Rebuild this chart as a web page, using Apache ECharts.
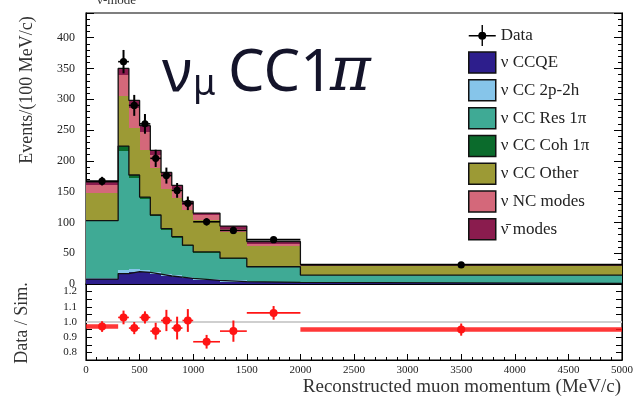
<!DOCTYPE html>
<html>
<head>
<meta charset="utf-8">
<script src="https://cdn.jsdelivr.net/npm/echarts@6/dist/echarts.min.js"></script>
<style>
  html, body { margin: 0; padding: 0; background: #fff; }
  #chart { width: 643px; height: 411px; }
</style>
</head>
<body>
<div id="chart"></div>
<script>
// bin edges in MeV/c, heights in events per 100 MeV/c
const binEdges = [0, 300, 400, 500, 600, 700, 800, 900, 1000, 1250, 1500, 2000, 5000];
const ccqe    = [8, 17, 20, 19, 16, 13, 11, 9, 6, 4, 2.5, 1];
const cc2p2h  = [2, 5, 5, 4, 4, 3, 3, 2, 2, 2, 1, 1];
const ccRes   = [92, 194, 147, 115, 90, 72, 61, 51, 43, 35, 24, 12];
const ccCoh   = [1, 8, 5, 3, 2, 2, 2, 1, 1, 1, 0.5, 0.5];
const ccOther = [45, 82, 77, 76, 76, 65, 62, 57, 52, 43, 33, 14.5];
const ncModes = [12, 34, 32, 30, 21, 20, 16, 9, 8, 5, 4, 2];
const antiNu  = [6, 10, 12, 10, 8, 6, 5, 5, 3, 4, 4, 1];

const dataVals = [167, 361, 290, 260, 204, 176, 152, 131, 101, 87, 72, 31];
const dataErr  = [7, 19, 17, 16, 14, 13, 12, 11, 6, 6, 4, 1.5];

const ratioVals = [0.97, 1.03, 0.96, 1.03, 0.94, 1.01, 0.96, 1.01, 0.87, 0.94, 1.06, 0.95];
const ratioErr  = [0.035, 0.045, 0.04, 0.04, 0.055, 0.07, 0.075, 0.075, 0.045, 0.07, 0.045, 0.04];

const components = [
  { name: 'ν CCQE',      vals: ccqe,    color: '#2d1e8c' },
  { name: 'ν CC 2p-2h',  vals: cc2p2h,  color: '#86c5ea' },
  { name: 'ν CC Res 1π', vals: ccRes,   color: '#3faa95' },
  { name: 'ν CC Coh 1π', vals: ccCoh,   color: '#0b6b2c' },
  { name: 'ν CC Other',  vals: ccOther, color: '#9c9a35' },
  { name: 'ν NC modes',  vals: ncModes, color: '#d4687a' },
  { name: 'ν̄ modes',     vals: antiNu,  color: '#8a1c4e' }
];

const serif = 'Liberation Serif';
const nBins = binEdges.length - 1;

// cumulative tops of the stack
const cum = [];
components.forEach((c, k) => {
  cum.push(c.vals.map((v, i) => v + (k > 0 ? cum[k - 1][i] : 0)));
});

function renderBox(params, api) {
  const p0 = api.coord([api.value(0), api.value(3)]);
  const p1 = api.coord([api.value(1), api.value(2)]);
  const x0 = Math.round(p0[0]), x1 = Math.round(p1[0]);
  const y0 = Math.round(p0[1]), y1 = Math.round(p1[1]);
  return {
    type: 'rect',
    shape: { x: x0, y: y0, width: x1 - x0, height: y1 - y0 },
    style: { fill: api.visual('color') }
  };
}

function stepLine(tops) {
  const pts = [];
  for (let i = 0; i < nBins; i++) {
    pts.push([binEdges[i], tops[i]], [binEdges[i + 1], tops[i]]);
  }
  return pts;
}

const series = [];

components.forEach((c, k) => {
  const items = [];
  for (let i = 0; i < nBins; i++) {
    const base = k > 0 ? cum[k - 1][i] : 0;
    items.push([binEdges[i], binEdges[i + 1], base, cum[k][i]]);
  }
  series.push({
    name: c.name,
    type: 'custom',
    xAxisIndex: 0, yAxisIndex: 0,
    itemStyle: { color: c.color },
    renderItem: renderBox,
    encode: { x: [0, 1], y: [2, 3] },
    data: items,
    z: 2,
    silent: true
  });
});

// black outlines: top of CCQE, res/coh boundary, top of stack
[0, 3, 6].forEach(k => {
  series.push({
    type: 'line',
    xAxisIndex: 0, yAxisIndex: 0,
    data: stepLine(cum[k]),
    showSymbol: false,
    lineStyle: { color: '#111', width: 1.3 },
    z: 3,
    silent: true
  });
});

function errRender(color, r, thickEnds) {
  return function (params, api) {
    const x = api.value(0), y = api.value(1), e = api.value(2);
    const lo = api.value(3), hi = api.value(4);
    const c = api.coord([x, y]);
    const t = api.coord([x, y + e]);
    const b = api.coord([x, y - e]);
    const l = api.coord([lo, y]);
    const h = api.coord([hi, y]);
    const thick = thickEnds && (params.dataIndex === 0 || params.dataIndex === nBins - 1);
    return {
      type: 'group',
      children: [
        { type: 'line', shape: { x1: l[0], y1: l[1], x2: h[0], y2: h[1] },
          style: { stroke: color, lineWidth: thick ? 4.5 : 1.6, opacity: thick ? 0.85 : 1 } },
        { type: 'line', shape: { x1: t[0], y1: t[1], x2: b[0], y2: b[1] },
          style: { stroke: color, lineWidth: 2 } },
        { type: 'circle', shape: { cx: c[0], cy: c[1], r: r }, style: { fill: color } }
      ]
    };
  };
}

const dataItems = dataVals.map((v, i) => [
  (binEdges[i] + binEdges[i + 1]) / 2, v, dataErr[i], binEdges[i], binEdges[i + 1]
]);
series.push({
  name: 'Data',
  type: 'custom',
  xAxisIndex: 0, yAxisIndex: 0,
  itemStyle: { color: '#000' },
  renderItem: errRender('#000', 3.6, false),
  encode: { x: 0, y: 1 },
  data: dataItems,
  z: 6,
  silent: true
});

// ratio panel
series.push({
  type: 'line',
  xAxisIndex: 1, yAxisIndex: 2,
  data: [[0, 1], [5000, 1]],
  showSymbol: false,
  lineStyle: { color: '#cfcfcf', width: 2 },
  z: 2,
  silent: true
});
const ratioItems = ratioVals.map((v, i) => [
  (binEdges[i] + binEdges[i + 1]) / 2, v, ratioErr[i], binEdges[i], binEdges[i + 1]
]);
series.push({
  type: 'custom',
  xAxisIndex: 1, yAxisIndex: 2,
  renderItem: errRender('#ff1414', 4, true),
  encode: { x: 0, y: 1 },
  data: ratioItems,
  z: 6,
  silent: true
});

const tickLabel = { fontFamily: serif, color: '#222' };

const chart = echarts.init(document.getElementById('chart'));
chart.setOption({
  animation: false,
  backgroundColor: '#fff',
  grid: [
    { left: 86, right: 21, top: 13, height: 271, show: true, borderColor: '#000', borderWidth: 1.2 },
    { left: 86, right: 21, top: 284, height: 76, show: true, borderColor: '#000', borderWidth: 1.2 }
  ],
  xAxis: [
    {
      gridIndex: 0, type: 'value', min: 0, max: 5000, interval: 500,
      axisLine: { lineStyle: { color: '#000' } },
      axisTick: { inside: true, length: 7, lineStyle: { color: '#000' } },
      minorTick: { show: true, splitNumber: 5, length: 3.5, lineStyle: { color: '#000' } },
      axisLabel: { show: false },
      splitLine: { show: false }
    },
    {
      gridIndex: 1, type: 'value', min: 0, max: 5000, interval: 500,
      axisLine: { lineStyle: { color: '#000' } },
      axisTick: { inside: true, length: 6, lineStyle: { color: '#000' } },
      minorTick: { show: true, splitNumber: 5, length: 3, lineStyle: { color: '#000' } },
      axisLabel: Object.assign({ fontSize: 11, margin: 5, formatter: v => String(v) }, tickLabel),
      splitLine: { show: false }
    }
  ],
  yAxis: [
    {
      gridIndex: 0, type: 'value', min: 0, max: 440, interval: 50,
      axisLine: { show: true, lineStyle: { color: '#000' } },
      axisTick: { inside: true, length: 8, lineStyle: { color: '#000' } },
      minorTick: { show: true, splitNumber: 5, length: 4, lineStyle: { color: '#000' } },
      axisLabel: Object.assign({ fontSize: 12, margin: 11, showMaxLabel: false }, tickLabel),
      splitLine: { show: false }
    },
    {
      gridIndex: 0, type: 'value', min: 0, max: 440, interval: 50, position: 'right',
      axisLine: { show: true, lineStyle: { color: '#000' } },
      axisTick: { inside: true, length: 8, lineStyle: { color: '#000' } },
      minorTick: { show: true, splitNumber: 5, length: 4, lineStyle: { color: '#000' } },
      axisLabel: { show: false },
      splitLine: { show: false }
    },
    {
      gridIndex: 1, type: 'value', min: 0.75, max: 1.25, interval: 0.05,
      axisLine: { show: true, lineStyle: { color: '#000' } },
      axisTick: { inside: true, length: 6, lineStyle: { color: '#000' } },
      axisLabel: Object.assign({
        fontSize: 11, margin: 9,
        formatter: v => Math.abs(v * 10 - Math.round(v * 10)) < 1e-6 ? v.toFixed(1) : ''
      }, tickLabel),
      splitLine: { show: false }
    },
    {
      gridIndex: 1, type: 'value', min: 0.75, max: 1.25, interval: 0.05, position: 'right',
      axisLine: { show: true, lineStyle: { color: '#000' } },
      axisTick: { inside: true, length: 6, lineStyle: { color: '#000' } },
      axisLabel: { show: false },
      splitLine: { show: false }
    }
  ],
  legend: {
    orient: 'vertical',
    left: 463, top: 20,
    itemWidth: 27, itemHeight: 21, itemGap: 5.3,
    selectedMode: false,
    textStyle: { fontFamily: serif, fontSize: 17, color: '#222' },
    itemStyle: { borderColor: '#111', borderWidth: 1.5 },
    data: [
      { name: 'Data', icon: 'path://M0,10h27v1.4h-27z M12.8,0h1.4v21h-1.4z M17.5,10.7a4,4 0 1,1 -8,0a4,4 0 1,1 8,0z',
        itemStyle: { color: '#000', borderWidth: 0 } }
    ].concat(components.map(c => ({ name: c.name, icon: 'rect' })))
  },
  graphic: [
    { type: 'text', left: 97, top: -6,
      style: { text: 'ν-mode', fontFamily: serif, fontSize: 13, fill: '#333' } },
    { type: 'text', x: 27, y: 90, rotation: Math.PI / 2,
      style: { text: 'Events/(100 MeV/c)', fontFamily: serif, fontSize: 18, fill: '#333',
               align: 'center', verticalAlign: 'middle' } },
    { type: 'text', x: 22, y: 323, rotation: Math.PI / 2,
      style: { text: 'Data / Sim.', fontFamily: serif, fontSize: 18, fill: '#333',
               align: 'center', verticalAlign: 'middle' } },
    { type: 'text', x: 621, y: 387,
      style: { text: 'Reconstructed muon momentum (MeV/c)', fontFamily: serif, fontSize: 19, fill: '#333',
               align: 'right', verticalAlign: 'middle' } },
    { type: 'text', x: 162, y: 74, z: 10,
      style: { text: 'ν', fontFamily: 'Noto Sans', fontSize: 58, fill: '#14142a', verticalAlign: 'middle' } },
    { type: 'text', x: 193, y: 85, z: 10,
      style: { text: 'μ', fontFamily: 'Noto Sans', fontSize: 36, fill: '#14142a', verticalAlign: 'middle' } },
    { type: 'text', x: 228, y: 74, z: 10,
      style: { text: 'CC1', fontFamily: 'Noto Sans', fontSize: 58, fill: '#14142a', verticalAlign: 'middle' } },
    { type: 'text', x: 330, y: 74, z: 10,
      style: { text: 'π', fontFamily: 'DejaVu Serif', fontStyle: 'italic', fontSize: 62, fill: '#14142a',
               verticalAlign: 'middle' } }
  ],
  series: series
});
</script>
</body>
</html>
